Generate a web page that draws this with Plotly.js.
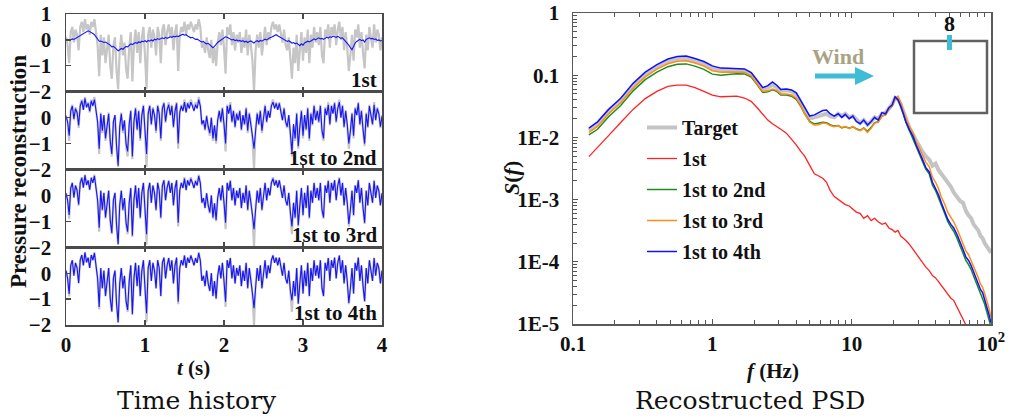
<!DOCTYPE html>
<html>
<head>
<meta charset="utf-8">
<script src="https://cdn.plot.ly/plotly-3.0.1.min.js"></script>
<style>html,body{margin:0;padding:0;background:#fff;}#chart{width:1011px;height:418px;}</style>
</head>
<body>
<div id="chart"></div>
<script>
// ---------------- DATA ----------------
const timeStart = 0;
const timeStep = 0.02; // s
const timeTicks = [0, 1, 2, 3, 4];
const subplotLabels = ["1st", "1st to 2nd", "1st to 3rd", "1st to 4th"];

const targetPressure = [
 0.1,-0.2,-0.9,0.3,0.5,-0.1,0.4,0.2,-0.4,0.5,
 0.7,0.3,0.8,0.4,0.6,0.2,0.7,0.5,0.8,0.3,
 -0.2,-1.4,0.2,-0.6,0.1,-0.9,-0.3,0.2,-1.0,-1.5,
 -0.2,0.1,-1.2,-1.9,-0.4,0.2,-0.6,-0.1,-1.1,-1.5,
 -0.3,0.3,-1.6,-0.2,0.4,-0.5,0.3,-0.9,0.1,0.5,
 -0.6,-1.9,0.2,0.5,-0.3,0.4,0.1,-0.6,0.5,0.2,
 -0.9,0.4,0.6,-0.2,0.3,0.6,0.1,0.5,-0.4,0.3,
 0.6,-1.2,0.2,0.5,0.3,0.7,0.2,0.6,0.4,0.7,
 0.5,0.3,0.6,0.4,0.8,0.5,-0.3,-0.1,-0.5,0.1,
 -0.4,-0.7,0.0,-0.9,-0.3,-1.0,-0.1,0.3,-0.2,0.4,
 -0.3,-1.3,0.5,0.2,0.6,-0.2,0.3,-0.4,0.2,-0.1,
 0.3,-0.5,0.1,-0.3,0.4,-0.6,0.2,-0.2,-0.8,-2.0,
 -0.4,0.2,-0.3,0.3,-0.6,0.1,0.5,-0.2,0.3,0.0,
 0.5,0.7,0.4,0.6,0.3,0.6,0.2,-0.1,0.4,-0.2,
 -0.4,0.1,-0.7,-1.5,-0.3,-0.9,0.2,-1.2,-0.4,0.3,
 -0.8,0.1,-0.5,0.4,-0.9,0.2,-0.3,0.5,-0.1,0.3,
 -0.2,0.5,-0.6,-0.9,0.4,0.1,0.6,-0.3,0.5,0.2,
 0.6,-0.2,0.4,0.7,0.0,0.5,-0.4,0.3,-0.3,-1.2,
 -0.6,0.2,-0.8,0.4,0.1,0.6,-0.3,0.3,-0.5,-1.1,
 0.2,-0.4,0.5,0.1,-0.3,0.6,-0.1,0.4,0.2,-0.4,
 0.1];

const recon1st = [
 0.0,0.02,-0.03,0.01,0.04,0.02,0.06,0.1,0.12,0.17,
 0.22,0.26,0.3,0.34,0.35,0.32,0.3,0.25,0.2,0.12,
 0.03,-0.05,-0.04,-0.08,-0.1,-0.08,-0.12,-0.15,-0.2,-0.27,
 -0.25,-0.3,-0.35,-0.42,-0.38,-0.33,-0.36,-0.3,-0.25,-0.27,
 -0.2,-0.15,-0.18,-0.12,-0.1,-0.13,-0.08,-0.1,-0.05,-0.07,
 -0.03,-0.08,-0.02,-0.05,0.0,-0.04,0.03,0.0,0.05,0.02,
 0.04,0.08,0.05,0.1,0.06,0.08,0.12,0.1,0.14,0.12,
 0.15,0.13,0.17,0.2,0.22,0.18,0.2,0.15,0.12,0.08,
 0.1,0.05,0.02,0.03,-0.02,-0.05,-0.08,-0.06,-0.12,-0.15,
 -0.13,-0.18,-0.22,-0.3,-0.25,-0.15,-0.1,-0.05,0.0,0.05,
 0.08,0.12,0.1,0.06,0.04,0.0,0.02,-0.03,0.0,-0.04,
 -0.02,-0.06,-0.03,-0.08,-0.05,-0.1,-0.06,-0.04,-0.08,-0.12,
 -0.06,-0.03,-0.07,-0.02,-0.05,0.0,0.03,0.0,0.05,0.08,
 0.1,0.14,0.18,0.2,0.16,0.12,0.08,0.04,0.0,-0.04,
 -0.06,-0.03,-0.08,-0.12,-0.1,-0.15,-0.12,-0.18,-0.22,-0.15,
 -0.2,-0.12,-0.08,-0.05,-0.08,-0.02,0.0,0.04,0.0,0.05,
 0.08,0.04,0.06,0.02,0.05,0.1,0.07,0.12,0.1,0.15,
 0.12,0.1,0.14,0.1,0.06,0.08,0.02,-0.05,-0.12,-0.2,
 -0.3,-0.38,-0.25,-0.12,-0.06,-0.02,0.02,-0.03,0.0,-0.08,
 0.02,0.05,0.08,0.04,0.06,0.02,0.04,-0.02,0.0,-0.04,
 -0.02];

const recon1to2 = [
 0.05,-0.15,-0.7,0.25,0.45,-0.05,0.35,0.2,-0.3,0.45,
 0.65,0.3,0.75,0.4,0.55,0.25,0.65,0.45,0.7,0.3,
 -0.15,-1.2,0.15,-0.5,0.1,-0.8,-0.25,0.15,-0.9,-1.4,
 -0.15,0.1,-1.1,-1.85,-0.35,0.15,-0.5,-0.1,-1.0,-1.3,
 -0.25,0.25,-1.5,-0.15,0.35,-0.45,0.25,-0.8,0.1,0.45,
 -0.5,-1.4,0.15,0.45,-0.25,0.35,0.1,-0.5,0.45,0.15,
 -0.8,0.35,0.55,-0.15,0.3,0.5,0.1,0.45,-0.35,0.25,
 0.55,-1.0,0.2,0.45,0.25,0.6,0.2,0.55,0.35,0.6,
 0.45,0.25,0.5,0.35,0.7,0.45,-0.25,-0.1,-0.45,0.05,
 -0.35,-0.6,0.0,-0.8,-0.3,-0.9,-0.1,0.25,-0.15,0.35,
 -0.25,-1.0,0.45,0.15,0.5,-0.15,0.25,-0.35,0.15,-0.1,
 0.25,-0.45,0.1,-0.25,0.35,-0.5,0.15,-0.2,-0.7,-1.2,
 -0.35,0.15,-0.25,0.25,-0.5,0.1,0.45,-0.15,0.25,0.0,
 0.45,0.6,0.35,0.55,0.3,0.55,0.15,-0.1,0.35,-0.15,
 -0.35,0.1,-0.6,-1.35,-0.25,-0.8,0.15,-1.1,-0.35,0.25,
 -0.7,0.1,-0.45,0.35,-0.8,0.15,-0.25,0.45,-0.1,0.25,
 -0.15,0.45,-0.5,-0.8,0.35,0.1,0.5,-0.25,0.45,0.15,
 0.55,-0.15,0.35,0.6,0.0,0.45,-0.35,0.25,-0.25,-1.0,
 -0.5,0.15,-0.7,0.35,0.1,0.55,-0.25,0.25,-0.45,-1.0,
 0.15,-0.35,0.45,0.1,-0.25,0.5,-0.1,0.35,0.15,-0.35,
 0.05];

const recon1to3 = [
 0.08,-0.18,-0.75,0.28,0.48,-0.08,0.38,0.2,-0.35,0.48,
 0.68,0.3,0.78,0.4,0.58,0.22,0.68,0.48,0.75,0.3,
 -0.18,-1.25,0.18,-0.55,0.1,-0.85,-0.28,0.18,-0.95,-1.45,
 -0.18,0.1,-1.15,-1.88,-0.38,0.18,-0.55,-0.1,-1.05,-1.4,
 -0.28,0.28,-1.55,-0.18,0.38,-0.48,0.28,-0.85,0.1,0.48,
 -0.55,-1.5,0.18,0.48,-0.28,0.38,0.1,-0.55,0.48,0.18,
 -0.85,0.38,0.58,-0.18,0.3,0.55,0.1,0.48,-0.38,0.28,
 0.58,-1.05,0.2,0.48,0.28,0.65,0.2,0.58,0.38,0.65,
 0.48,0.28,0.55,0.38,0.75,0.48,-0.28,-0.1,-0.48,0.08,
 -0.38,-0.65,0.0,-0.85,-0.3,-0.95,-0.1,0.28,-0.18,0.38,
 -0.28,-1.05,0.48,0.18,0.55,-0.18,0.28,-0.38,0.18,-0.1,
 0.28,-0.48,0.1,-0.28,0.38,-0.55,0.18,-0.2,-0.75,-1.3,
 -0.38,0.18,-0.28,0.28,-0.55,0.1,0.48,-0.18,0.28,0.0,
 0.48,0.65,0.38,0.58,0.3,0.58,0.18,-0.1,0.38,-0.18,
 -0.38,0.1,-0.65,-1.2,-0.28,-0.85,0.18,-1.15,-0.38,0.28,
 -0.75,0.1,-0.48,0.38,-0.85,0.18,-0.28,0.48,-0.1,0.28,
 -0.18,0.48,-0.55,-0.85,0.38,0.1,0.55,-0.28,0.48,0.18,
 0.58,-0.18,0.38,0.65,0.0,0.48,-0.38,0.28,-0.28,-1.1,
 -0.55,0.18,-0.75,0.38,0.1,0.58,-0.28,0.28,-0.48,-1.05,
 0.18,-0.38,0.48,0.1,-0.28,0.55,-0.1,0.38,0.18,-0.38,
 0.08];

const recon1to4 = [
 0.1,-0.2,-0.8,0.3,0.5,-0.1,0.4,0.2,-0.38,0.5,
 0.7,0.3,0.8,0.42,0.6,0.2,0.7,0.5,0.78,0.3,
 -0.2,-1.3,0.2,-0.58,0.1,-0.88,-0.3,0.2,-0.98,-1.48,
 -0.2,0.1,-1.18,-1.9,-0.4,0.2,-0.58,-0.1,-1.08,-1.42,
 -0.3,0.3,-1.58,-0.2,0.4,-0.5,0.3,-0.88,0.1,0.5,
 -0.58,-1.55,0.2,0.5,-0.3,0.4,0.1,-0.58,0.5,0.2,
 -0.88,0.4,0.6,-0.2,0.3,0.58,0.1,0.5,-0.4,0.3,
 0.6,-1.1,0.2,0.5,0.3,0.68,0.2,0.6,0.4,0.68,
 0.5,0.3,0.58,0.4,0.78,0.5,-0.3,-0.1,-0.5,0.1,
 -0.4,-0.68,0.0,-0.88,-0.3,-0.98,-0.1,0.3,-0.2,0.4,
 -0.3,-1.1,0.5,0.2,0.58,-0.2,0.3,-0.4,0.2,-0.1,
 0.3,-0.5,0.1,-0.3,0.4,-0.58,0.2,-0.2,-0.78,-1.35,
 -0.4,0.2,-0.3,0.3,-0.58,0.1,0.5,-0.2,0.3,0.0,
 0.5,0.68,0.4,0.6,0.3,0.6,0.2,-0.1,0.4,-0.2,
 -0.4,0.1,-0.68,-1.05,-0.3,-0.88,0.2,-1.18,-0.4,0.3,
 -0.78,0.1,-0.5,0.4,-0.88,0.2,-0.3,0.5,-0.1,0.3,
 -0.2,0.5,-0.58,-0.88,0.4,0.1,0.58,-0.3,0.5,0.2,
 0.6,-0.2,0.4,0.68,0.0,0.5,-0.4,0.3,-0.3,-1.15,
 -0.58,0.2,-0.78,0.4,0.1,0.6,-0.3,0.3,-0.5,-1.08,
 0.2,-0.4,0.5,0.1,-0.3,0.58,-0.1,0.4,0.2,-0.4,
 0.1];

// PSD (frequency in Hz)
const freq = [0.13,0.15,0.18,0.22,0.27,0.33,0.4,0.48,0.56,0.65,0.75,0.87,1.0,1.15,1.3,1.5,1.7,1.9,2.1,2.3,
 2.5,2.7,2.9,3.1,3.4,3.7,4.0,4.3,4.6,5.0,5.4,5.8,6.2,6.6,7.0,7.5,8.0,8.5,9.0,9.6,
 10.2,10.8,11.5,12.2,13.0,13.8,14.6,15.5,16.5,17.5,18.5,19.5,20.5,21.5,22.5,23.5,24.5,26,27.5,29,
 30.5,32,34,36,38,40,42,44,46.5,49,51.5,54,57,60,63,66,69,72,75,78,81,84,87,90,93,96,100];

const psdTarget = [1.3e-2,1.62e-2,2.55e-2,3.9e-2,6.7e-2,0.101,0.134,0.165,0.182,0.185,0.170,0.152,0.130,0.121,0.120,0.121,0.119,0.104,0.079,0.060,
 0.063,0.070,0.064,0.056,0.057,0.055,0.049,0.038,0.028,0.020,0.021,0.022,0.023,0.024,0.022,0.021,0.024,0.022,0.024,0.021,
 0.022,0.019,0.017,0.019,0.016,0.018,0.021,0.020,0.024,0.025,0.030,0.034,0.043,0.042,0.034,0.026,0.020,1.41e-2,1.12e-2,8.9e-3,
 7.6e-3,6.0e-3,5.0e-3,4.4e-3,3.5e-3,3.8e-3,3.0e-3,2.6e-3,2.2e-3,1.8e-3,1.6e-3,1.3e-3,1.12e-3,9.5e-4,8.9e-4,6.6e-4,5.6e-4,5.0e-4,4.0e-4,3.5e-4,
 3.2e-4,2.6e-4,2.4e-4,2.0e-4,1.8e-4,1.6e-4,1.4e-4];

const psd1st = [4.9e-3,6.8e-3,1.07e-2,1.74e-2,2.82e-2,4.2e-2,5.5e-2,6.6e-2,6.9e-2,6.9e-2,6.3e-2,5.5e-2,4.8e-2,4.5e-2,4.5e-2,4.6e-2,4.3e-2,3.8e-2,3.0e-2,2.4e-2,
 1.9e-2,1.66e-2,1.51e-2,1.35e-2,1.17e-2,9.5e-3,7.6e-3,6.0e-3,5.0e-3,3.55e-3,2.6e-3,2.4e-3,2.2e-3,1.9e-3,1.41e-3,1.12e-3,1.0e-3,9.3e-4,8.3e-4,7.9e-4,
 6.9e-4,6.3e-4,6.0e-4,5.0e-4,5.5e-4,4.6e-4,5.0e-4,4.4e-4,4.0e-4,4.2e-4,3.5e-4,3.3e-4,3.0e-4,3.2e-4,2.6e-4,2.4e-4,2.2e-4,1.9e-4,1.58e-4,1.38e-4,
 1.15e-4,1.0e-4,8.3e-5,7.2e-5,6.0e-5,5.5e-5,4.8e-5,4.2e-5,3.6e-5,3.0e-5,2.6e-5,2.4e-5,1.9e-5,1.45e-5,1.2e-5,9.5e-6,7.9e-6];

const psd1to2 = [1.1e-2,1.35e-2,2.15e-2,3.25e-2,5.6e-2,8.5e-2,0.112,0.137,0.150,0.152,0.140,0.124,0.104,0.100,0.103,0.106,0.105,0.093,0.070,0.053,
 0.054,0.058,0.055,0.048,0.048,0.046,0.041,0.032,0.024,0.0180,0.0165,0.0168,0.0175,0.0172,0.0160,0.0152,0.0155,0.0142,0.0148,0.0140,
 0.0148,0.0138,0.0130,0.0142,0.0125,0.0145,0.0172,0.0178,0.022,0.023,0.029,0.032,0.043,0.041,0.032,0.024,0.0175,0.0128,0.0100,0.0072,
 0.0057,0.0043,0.0031,0.0026,0.0017,0.0014,0.0011,8.2e-4,6.0e-4,4.4e-4,3.6e-4,3.1e-4,2.4e-4,1.75e-4,1.4e-4,1.05e-4,9.0e-5,7.5e-5,5.9e-5,4.7e-5,
 3.9e-5,3.0e-5,2.6e-5,2.1e-5,1.6e-5,1.2e-5,9.0e-6];

const psd1to3 = [1.2e-2,1.5e-2,2.4e-2,3.6e-2,6.2e-2,9.4e-2,0.125,0.153,0.168,0.170,0.157,0.140,0.118,0.112,0.113,0.114,0.112,0.098,0.073,0.055,
 0.056,0.060,0.057,0.050,0.050,0.048,0.043,0.033,0.024,0.0175,0.0158,0.0160,0.0170,0.0168,0.0155,0.0148,0.0155,0.0145,0.0150,0.0138,
 0.0150,0.0135,0.0128,0.0140,0.0120,0.0140,0.0170,0.0175,0.022,0.023,0.029,0.032,0.042,0.046,0.036,0.027,0.020,0.0150,0.0120,0.0085,
 0.0070,0.0054,0.0040,0.0034,0.0023,0.0019,0.0015,1.1e-3,8.5e-4,6.2e-4,5.2e-4,4.4e-4,3.4e-4,2.5e-4,2.0e-4,1.5e-4,1.3e-4,1.05e-4,8.5e-5,6.8e-5,
 5.6e-5,4.4e-5,3.9e-5,3.1e-5,2.5e-5,1.9e-5,1.3e-5];

const psd1to4 = [1.41e-2,1.78e-2,2.82e-2,4.27e-2,7.4e-2,0.112,0.148,0.182,0.200,0.204,0.186,0.166,0.141,0.130,0.129,0.129,0.126,0.110,0.083,0.063,
 0.068,0.078,0.069,0.059,0.060,0.058,0.052,0.040,0.030,0.022,0.023,0.025,0.027,0.0275,0.024,0.022,0.024,0.021,0.0235,0.020,
 0.022,0.018,0.0166,0.019,0.0158,0.018,0.021,0.019,0.025,0.024,0.030,0.033,0.045,0.040,0.032,0.024,0.0178,0.0132,0.0105,0.0076,
 0.0060,0.0046,0.0033,0.0028,0.0019,0.0015,0.0012,8.9e-4,6.6e-4,4.8e-4,4.0e-4,3.5e-4,2.75e-4,2.0e-4,1.58e-4,1.2e-4,1.05e-4,8.7e-5,6.9e-5,5.5e-5,
 4.6e-5,3.6e-5,3.2e-5,2.5e-5,2.0e-5,1.5e-5,1.05e-5];

const psdNames = ["Target", "1st", "1st to 2nd", "1st to 3rd", "1st to 4th"];
const psdXTickVals = [0.1, 1, 10, 100];
const psdXTickText = ["0.1", "1", "10", "10<sup>2</sup>"];
const psdXMinor = [0.2,0.3,0.4,0.5,0.6,0.7,0.8,0.9,2,3,4,5,6,7,8,9,20,30,40,50,60,70,80,90];
const psdYTickVals = [1e-5, 1e-4, 1e-3, 1e-2, 0.1, 1];
const psdYTickText = ["1E-5", "1E-4", "1E-3", "1E-2", "0.1", "1"];
const psdYMinor = [2e-5,3e-5,4e-5,5e-5,6e-5,7e-5,8e-5,9e-5,2e-4,3e-4,4e-4,5e-4,6e-4,7e-4,8e-4,9e-4,
 2e-3,3e-3,4e-3,5e-3,6e-3,7e-3,8e-3,9e-3,2e-2,3e-2,4e-2,5e-2,6e-2,7e-2,8e-2,9e-2,0.2,0.3,0.4,0.5,0.6,0.7,0.8,0.9];

// ---------------- STYLE / LAYOUT ----------------
const W = 1011, H = 418;
const px = v => v / W;
const py = v => 1 - v / H;
const BOLDF = "Liberation Serif";
const PLAINF = "DejaVu Serif";
const tickFont = {family: BOLDF, size: 21, weight: "bold", color: "#111"};
const axisCol = "#4a4a4a";
const GREY = "#c6c6c6", BLUE = "#1414ff";
const CYAN = "#3fbcd6";

const recons = [recon1st, recon1to2, recon1to3, recon1to4];
const subTops = [14, 91.75, 169.5, 247.25, 325];

const traces = [];
const layout = {
  width: W, height: H,
  margin: {l: 0, r: 0, t: 0, b: 0},
  paper_bgcolor: "#fff", plot_bgcolor: "rgba(0,0,0,0)",
  showlegend: true,
  legend: {
    x: px(642), y: py(108), xanchor: "left", yanchor: "top",
    bgcolor: "rgba(0,0,0,0)", borderwidth: 0,
    font: {family: BOLDF, size: 20, weight: "bold", color: "#111"},
    traceorder: "grouped", tracegroupgap: 2
  },
  annotations: [], shapes: []
};

for (let k = 0; k < 4; k++) {
  const xa = k === 0 ? "x" : "x" + (k + 1);
  const ya = k === 0 ? "y" : "y" + (k + 1);
  traces.push({type: "scatter", mode: "lines", x0: timeStart, dx: timeStep, y: targetPressure,
    xaxis: xa, yaxis: ya, line: {color: GREY, width: 2.2}, showlegend: false, hoverinfo: "skip"});
  traces.push({type: "scatter", mode: "lines", x0: timeStart, dx: timeStep, y: recons[k],
    xaxis: xa, yaxis: ya, line: {color: BLUE, width: 1.1}, showlegend: false, hoverinfo: "skip"});
  const xKey = k === 0 ? "xaxis" : "xaxis" + (k + 1);
  const yKey = k === 0 ? "yaxis" : "yaxis" + (k + 1);
  layout[xKey] = {
    domain: [px(66), px(382)], anchor: ya, range: [0, 4],
    tickvals: timeTicks, ticks: "inside", ticklen: 5, tickcolor: axisCol, tickwidth: 1.2,
    showline: true, linecolor: axisCol, linewidth: 1.5, mirror: "ticks",
    showgrid: false, zeroline: false, showticklabels: k === 3, tickfont: tickFont,
    ticklabelstandoff: 0
  };
  layout[yKey] = {
    domain: [py(subTops[k + 1]), py(subTops[k])], anchor: xa, range: [-2, 1],
    tickvals: k === 0 ? [-2, -1, 0, 1] : [-2, -1, 0],
    ticks: "inside", ticklen: 5, tickcolor: axisCol, tickwidth: 1.2,
    showline: true, linecolor: axisCol, linewidth: 1.5, mirror: true,
    showgrid: false, zeroline: false, tickfont: tickFont, ticklabelstandoff: 9
  };
  layout.annotations.push({xref: "paper", yref: "paper", x: px(379), y: py(subTops[k + 1] - 12),
    xanchor: "right", yanchor: "middle", showarrow: false, text: subplotLabels[k],
    font: {family: BOLDF, size: 21, weight: "bold", color: "#111"}});
}

// PSD traces
const psdSeries = [psdTarget, psd1st, psd1to2, psd1to3, psd1to4];
const psdColors = ["#c4c4c4", "#ff2222", "#1e8c1e", "#ff8c1a", "#1010ff"];
const psdWidths = [4, 1.3, 1.5, 1.5, 1.5];
for (let i = 0; i < 5; i++) {
  traces.push({type: "scatter", mode: "lines", name: psdNames[i], legendgroup: "g" + i,
    x: freq.slice(0, psdSeries[i].length), y: psdSeries[i], xaxis: "x5", yaxis: "y5",
    line: {color: psdColors[i], width: psdWidths[i]}, hoverinfo: "skip"});
}
layout.xaxis5 = {
  domain: [px(573), px(991)], anchor: "y5", type: "log", range: [-1, 2],
  tickvals: psdXTickVals, ticktext: psdXTickText,
  ticks: "inside", ticklen: 5, tickcolor: "#555", tickwidth: 1,
  minor: {tickvals: psdXMinor, ticks: "inside", ticklen: 4, tickcolor: "#555", tickwidth: 1, showgrid: false},
  showline: true, linecolor: "#5a5a5a", linewidth: 1.5, mirror: "ticks",
  showgrid: false, zeroline: false, tickfont: tickFont, ticklabelstandoff: 0
};
layout.yaxis5 = {
  domain: [py(324), py(13)], anchor: "x5", type: "log", range: [-5, 0],
  tickvals: psdYTickVals, ticktext: psdYTickText,
  ticks: "inside", ticklen: 5, tickcolor: "#555", tickwidth: 1,
  minor: {tickvals: psdYMinor, ticks: "inside", ticklen: 4, tickcolor: "#555", tickwidth: 1, showgrid: false},
  showline: true, linecolor: "#5a5a5a", linewidth: 1.5, mirror: true,
  showgrid: false, zeroline: false, tickfont: tickFont, ticklabelstandoff: 8
};

// Titles & labels
const ann = (x, y, text, size, family, bold, extra) => Object.assign({xref: "paper", yref: "paper", x: px(x), y: py(y),
  xanchor: "center", yanchor: "middle", showarrow: false, text: text,
  font: {family: family, size: size, weight: bold ? "bold" : "normal", color: "#111"}}, extra || {});
layout.annotations.push(ann(19, 172, "Pressure reconstruction", 23, BOLDF, true, {textangle: -90}));
layout.annotations.push(ann(193, 368, "<i>t</i> (s)", 21, BOLDF, true));
layout.annotations.push(ann(197, 400, "Time history", 25, PLAINF, false));
layout.annotations.push(ann(511, 178, "<i>S</i>(<i>f</i>)", 22, BOLDF, true, {textangle: -90}));
layout.annotations.push(ann(773, 371, "<i>f</i> (Hz)", 21, BOLDF, true));
layout.annotations.push(ann(750, 400, "Recostructed PSD", 25, PLAINF, false));
layout.annotations.push(ann(838, 56, "Wind", 22, BOLDF, true, {font: {family: BOLDF, size: 22, weight: "bold", color: "#a9a384"}}));
layout.annotations.push(ann(949, 24, "8", 22, BOLDF, true));

// Wind arrow and inset building plan
const arrowPath = "M " + px(815) + "," + py(73.5) + " L " + px(855) + "," + py(73.5) + " L " + px(855) + "," + py(67) +
  " L " + px(874) + "," + py(76) + " L " + px(855) + "," + py(85) + " L " + px(855) + "," + py(78.5) +
  " L " + px(815) + "," + py(78.5) + " Z";
layout.shapes.push({type: "path", xref: "paper", yref: "paper", path: arrowPath, fillcolor: CYAN, line: {width: 0}});
layout.shapes.push({type: "rect", xref: "paper", yref: "paper", x0: px(914), x1: px(987), y0: py(113), y1: py(41),
  line: {color: "#616161", width: 2.5}, fillcolor: "rgba(0,0,0,0)"});
layout.shapes.push({type: "rect", xref: "paper", yref: "paper", x0: px(947), x1: px(952), y0: py(50), y1: py(35),
  line: {width: 0}, fillcolor: CYAN});

Plotly.newPlot("chart", traces, layout, {displayModeBar: false, staticPlot: true});
</script>
</body>
</html>
